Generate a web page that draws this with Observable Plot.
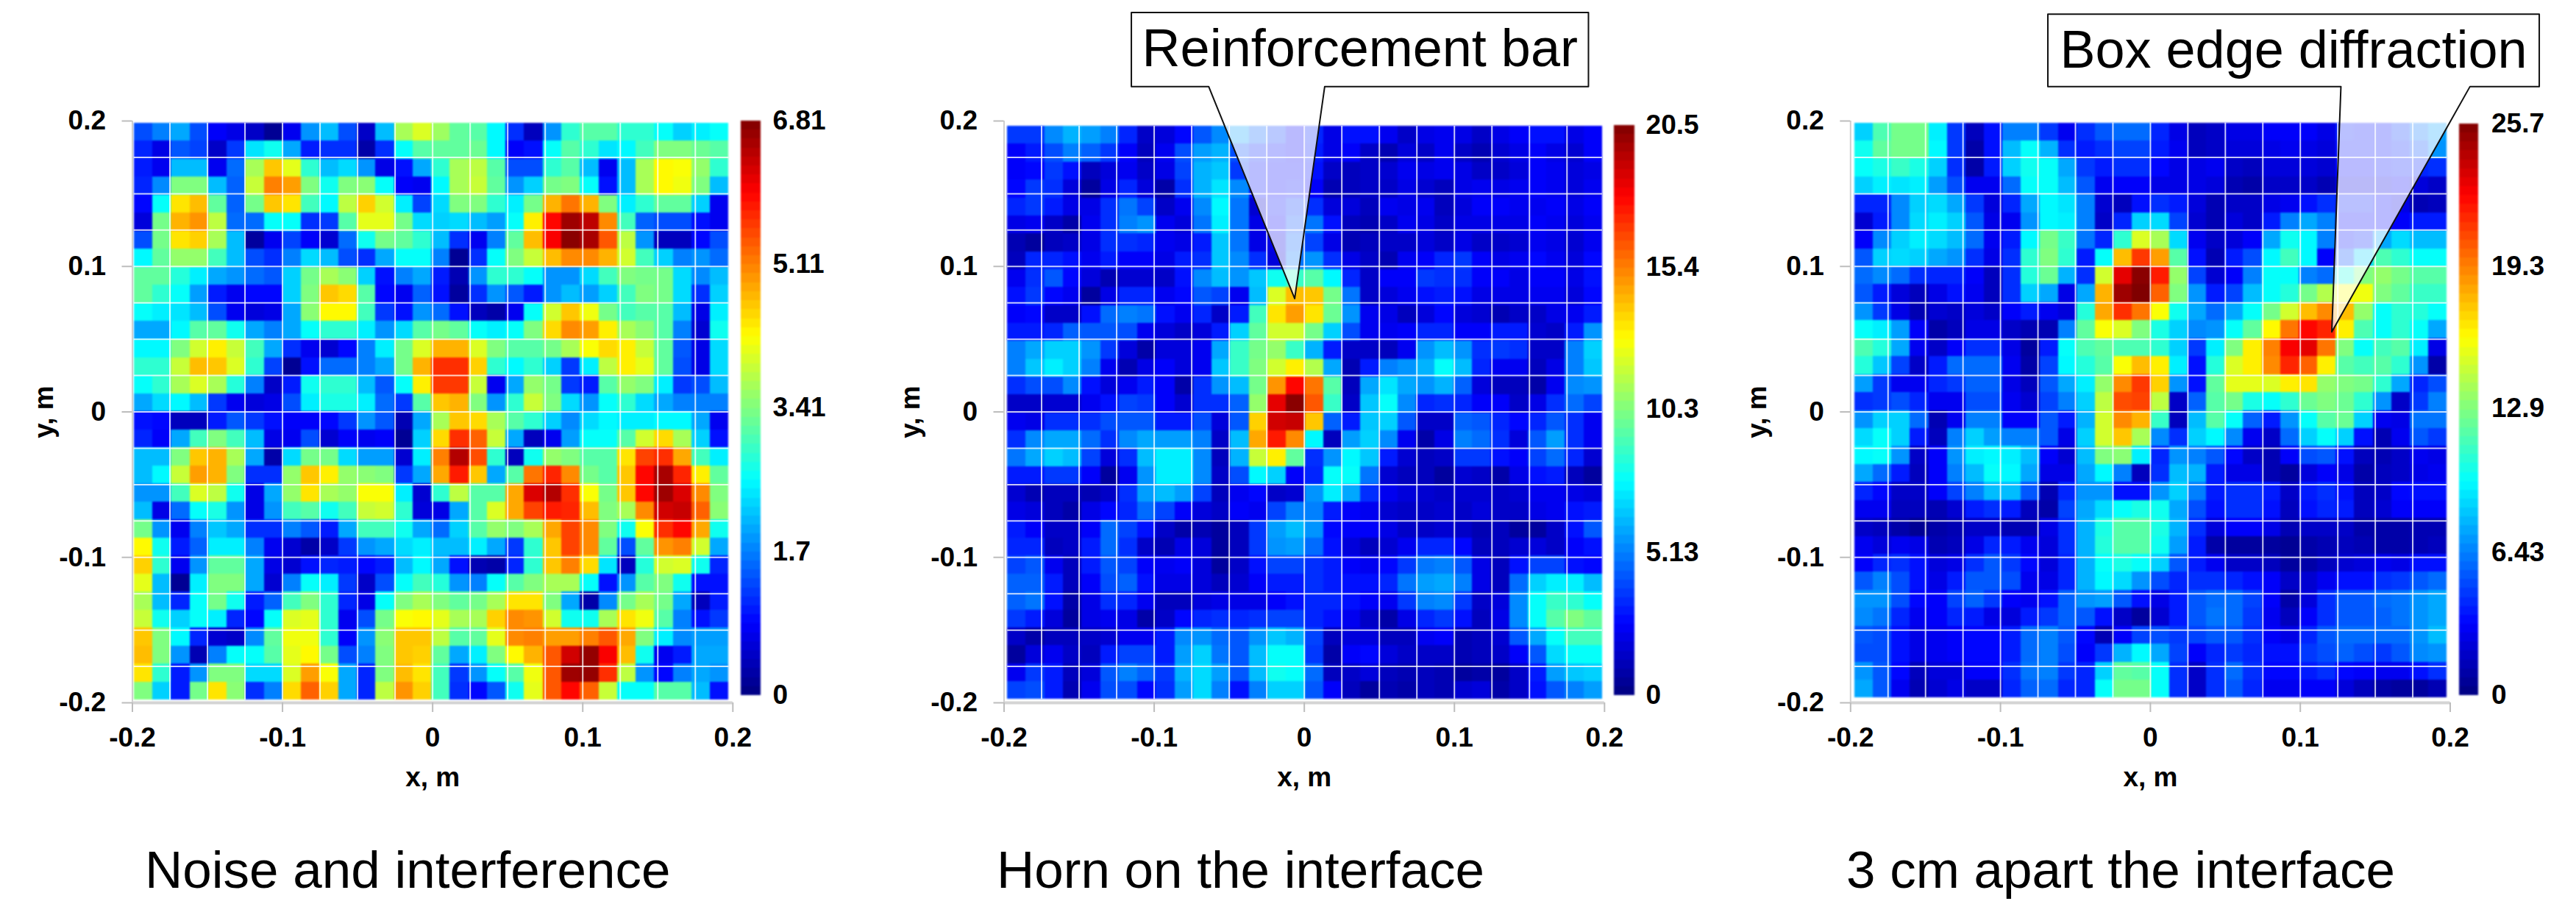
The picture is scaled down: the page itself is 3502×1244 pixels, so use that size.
<!DOCTYPE html>
<html><head><meta charset="utf-8">
<script src="https://cdn.jsdelivr.net/npm/d3@7"></script>
<script src="https://cdn.jsdelivr.net/npm/@observablehq/plot@0.6"></script>
<style>
html,body{margin:0;padding:0;background:#fff;}
#page{position:relative;width:3502px;height:1244px;overflow:hidden;background:#fff;}
.panel{position:absolute;top:0;}
.panel svg{display:block;max-width:none;background:transparent;}
.panel svg > g[aria-label="rect"]{filter:blur(1.2px);}
.cap{position:absolute;top:1147px;font:71px/71px "Liberation Sans",Arial,sans-serif;color:#000;white-space:nowrap;}
</style></head><body><div id="page"></div>
<script>
// Cell levels, in percent of each panel's colour scale; first row is y = +0.2.
const noiseRows = [
[20,25,29,20,12,10,7,2,11,27,31,20,7,31,54,59,53,47,46,37,17,6,27,42,46,46,42,42,38,33,36,38],
[16,10,21,19,7,18,35,39,29,15,17,17,4,17,38,46,47,47,48,37,12,14,38,46,42,35,37,44,50,50,48,46],
[15,11,31,31,11,23,54,68,60,42,31,34,27,10,14,29,42,54,56,46,20,20,42,46,31,11,31,54,63,62,52,42],
[16,26,50,50,31,22,57,75,72,50,39,50,51,38,12,11,37,54,57,47,27,33,49,50,38,14,31,54,63,61,50,31],
[13,38,65,69,47,22,49,68,65,44,37,56,67,58,36,19,34,50,50,42,36,49,70,76,70,50,36,42,47,47,33,11],
[9,49,70,73,56,23,23,38,38,17,18,46,60,60,49,34,33,34,31,28,38,64,87,97,94,74,44,22,20,20,14,11],
[20,49,65,67,54,31,3,11,19,12,8,23,39,49,47,42,31,17,11,25,47,69,88,99,96,79,56,27,6,6,13,20],
[37,47,52,52,44,31,20,17,25,34,31,20,17,29,38,38,25,2,17,38,50,57,69,74,74,70,58,44,33,25,27,23],
[47,47,41,36,29,27,23,21,33,49,54,51,33,14,25,29,15,5,27,42,42,38,27,27,34,44,50,49,49,34,26,31],
[47,42,38,28,15,11,13,13,33,50,68,66,46,13,11,22,14,3,17,27,21,15,27,31,28,33,44,50,49,34,17,33],
[38,36,35,31,20,11,9,10,29,51,63,63,44,18,14,27,23,14,6,4,11,38,58,68,61,49,44,46,46,31,10,36],
[29,29,37,46,47,39,29,25,29,38,42,42,36,27,34,46,49,47,38,36,38,50,66,74,72,64,54,51,46,25,8,39],
[37,37,50,58,64,57,44,29,17,11,8,13,25,36,49,59,70,70,59,50,46,46,49,54,62,66,64,57,47,21,10,34],
[42,42,57,69,68,59,42,19,2,14,23,23,25,29,49,70,83,83,67,42,37,42,33,18,36,56,64,60,47,20,10,34],
[38,42,54,59,54,41,25,7,15,39,42,42,31,21,38,64,82,82,57,11,29,52,49,18,15,46,52,50,36,18,20,31],
[29,34,37,31,18,11,9,10,20,36,40,40,36,23,18,46,68,70,50,27,42,57,50,34,27,38,42,34,29,25,25,25],
[14,13,6,6,15,21,18,14,12,12,13,18,27,21,5,29,54,68,66,54,46,42,33,26,34,37,36,36,37,37,29,11],
[16,12,29,44,50,44,31,10,11,20,8,12,11,12,2,33,66,83,78,57,29,6,11,28,38,38,46,58,66,54,33,14],
[31,31,50,68,70,54,29,4,34,49,49,34,28,28,8,36,75,95,80,42,6,39,52,50,46,46,65,81,83,71,44,36],
[31,37,57,72,70,50,17,17,52,68,64,52,51,50,18,29,71,85,68,29,46,76,84,74,49,46,68,87,96,84,64,47],
[27,27,44,59,56,39,10,29,52,65,54,52,62,62,36,8,42,56,46,46,71,91,95,83,62,49,68,87,97,91,74,50],
[31,10,23,38,40,27,10,27,44,46,39,44,57,58,42,9,10,29,46,59,71,81,85,84,69,50,54,74,92,93,78,51],
[49,27,11,25,32,29,17,17,25,21,15,29,44,44,39,29,23,33,46,52,50,54,71,81,74,50,39,62,83,87,71,39],
[63,39,15,22,36,36,25,11,8,4,7,18,27,29,34,36,31,31,36,29,18,42,68,81,74,47,20,47,73,75,58,29],
[67,42,11,27,47,47,29,10,8,14,16,15,13,15,31,37,29,14,5,4,16,42,68,75,66,35,6,41,58,59,39,16],
[60,31,2,36,50,50,29,8,25,38,36,18,7,20,38,44,41,27,25,38,46,50,54,54,38,14,27,46,50,39,14,14],
[54,31,16,38,49,39,15,22,44,50,42,16,10,38,50,54,50,47,49,54,65,65,50,29,4,26,49,54,49,29,6,15],
[57,39,33,38,36,16,13,38,59,60,42,11,20,49,62,63,60,54,54,67,74,73,58,39,39,54,65,61,46,25,14,18],
[68,50,37,16,8,7,26,47,61,61,42,12,27,51,68,68,56,46,47,60,74,75,72,72,75,79,71,50,36,26,28,28],
[69,50,27,5,25,38,38,46,60,63,49,20,25,50,68,67,47,29,36,50,63,70,79,92,98,88,69,39,11,15,29,29],
[65,42,15,27,50,50,34,34,59,72,62,29,16,50,69,65,44,18,27,38,46,61,79,97,98,83,56,27,13,25,29,27],
[50,33,15,49,65,51,17,25,66,78,67,29,16,56,73,67,44,17,13,21,39,60,79,87,78,57,38,38,46,46,31,14]
];
const hornRows = [
[18,18,26,30,28,25,16,7,9,13,21,26,28,22,18,12,16,10,14,14,11,7,10,11,10,7,10,12,14,14,10,12],
[12,15,20,25,22,18,12,6,11,20,28,30,20,16,14,12,15,10,12,7,5,9,7,11,7,5,8,10,12,10,8,12],
[12,13,18,14,6,9,11,7,10,19,30,32,18,14,13,13,14,7,6,7,8,11,10,11,10,7,7,9,12,11,9,10],
[13,18,17,9,3,10,16,9,4,17,30,35,26,14,13,14,12,5,6,7,7,10,8,6,10,11,10,11,12,11,9,11],
[16,18,15,10,10,17,24,19,7,11,26,37,24,8,14,18,17,9,9,6,11,10,11,6,9,12,12,11,11,12,10,12],
[10,11,7,4,11,17,25,27,11,9,24,36,24,10,12,20,24,14,6,5,7,11,10,7,10,10,10,10,12,11,9,11],
[5,3,6,7,10,17,17,16,11,10,15,32,24,10,10,22,19,10,5,6,7,7,9,7,10,7,7,8,11,10,8,11],
[6,16,16,14,11,15,12,12,10,15,17,32,26,17,9,24,27,17,10,7,5,11,12,16,18,12,10,11,13,11,9,13],
[11,17,21,13,9,5,8,8,7,14,26,31,27,32,39,43,46,37,16,7,12,12,18,17,17,12,12,10,12,12,10,14],
[14,18,13,11,3,10,16,16,11,13,21,19,11,31,59,69,68,49,24,7,9,11,14,15,14,10,10,10,11,11,9,13],
[12,13,7,7,14,23,25,24,14,11,16,7,15,44,65,72,65,48,27,11,10,6,9,13,9,8,5,7,7,10,11,15],
[15,15,16,22,21,21,20,11,9,7,9,15,33,47,58,58,49,33,20,11,11,12,16,16,12,12,15,15,8,7,15,27],
[25,29,33,33,27,18,9,4,9,9,11,29,43,49,52,43,30,15,7,7,6,11,27,31,27,17,18,17,7,7,25,33],
[25,32,36,33,25,11,5,10,12,9,11,32,43,50,58,64,55,29,5,15,25,27,30,38,31,16,11,11,6,10,25,32],
[17,20,20,26,14,9,11,15,12,4,17,27,31,49,73,87,76,46,6,29,35,29,27,30,22,9,6,6,4,11,26,27],
[7,7,8,8,11,14,19,18,12,8,17,17,22,52,90,99,79,43,7,32,38,26,16,17,16,12,12,7,10,17,23,19],
[11,10,17,17,17,20,21,21,15,15,20,9,21,67,92,93,68,22,15,32,33,21,7,7,22,21,16,13,16,21,17,11],
[17,26,29,29,23,17,26,29,28,28,25,7,31,71,85,74,37,6,28,33,26,11,4,10,25,23,17,9,21,28,17,11],
[24,29,33,31,19,9,17,31,36,36,26,6,30,57,64,47,17,27,37,32,15,8,6,7,18,18,14,12,19,23,16,8],
[15,15,18,18,12,3,11,27,36,36,26,7,20,37,33,12,16,38,38,24,8,6,6,3,8,7,4,10,14,15,6,3],
[8,5,6,6,5,7,17,28,31,28,19,6,11,13,7,8,27,36,29,17,11,9,8,7,8,8,7,8,11,11,10,9],
[10,9,6,4,10,13,16,23,19,12,9,7,12,11,19,25,25,15,12,11,8,7,7,8,7,9,7,7,10,11,14,15],
[15,12,7,7,12,23,19,14,7,4,5,3,6,18,28,31,27,13,12,12,10,7,7,8,7,5,6,3,3,7,14,21],
[16,16,6,7,15,23,17,7,5,10,9,3,6,18,27,28,23,14,9,6,8,11,16,16,13,6,6,8,9,7,12,14],
[19,21,11,6,15,21,19,12,11,12,9,3,7,14,19,19,17,15,12,11,13,18,24,25,21,10,6,14,19,19,14,13],
[22,22,15,6,12,20,22,14,10,10,9,6,8,12,15,15,17,15,14,14,16,24,28,29,25,10,6,23,33,36,36,31],
[22,24,14,4,10,17,16,11,6,6,9,10,10,10,12,14,16,16,14,12,11,18,25,26,18,7,9,26,38,43,42,38],
[18,15,9,3,10,11,10,4,7,13,16,17,16,17,19,19,16,14,11,7,4,10,16,18,14,6,10,26,38,46,50,47],
[7,4,6,6,7,8,11,11,15,26,27,23,21,27,32,30,19,6,9,9,6,6,11,12,5,6,8,21,29,38,44,44],
[3,9,11,7,6,15,19,19,15,28,33,24,21,31,38,38,18,4,12,13,9,7,7,7,5,6,7,12,21,34,38,38],
[11,18,15,6,9,21,25,22,18,30,34,28,21,31,39,38,23,6,7,9,6,5,6,5,3,4,3,7,15,28,32,33],
[19,20,15,5,11,20,20,13,17,28,34,25,14,25,33,33,21,12,6,3,5,4,6,5,8,9,4,7,14,21,25,28]
];
const apartRows = [
[33,45,49,49,36,18,6,14,25,25,18,11,17,21,23,23,16,10,6,7,10,10,12,12,12,10,15,14,14,18,24,28],
[39,47,49,49,37,18,4,14,31,38,30,17,15,17,19,19,15,11,6,7,9,9,10,11,10,9,14,14,14,16,20,27],
[38,40,43,40,33,17,4,15,33,39,38,29,18,15,17,17,13,10,10,11,7,6,9,9,9,8,13,13,14,15,16,17],
[33,36,35,36,28,20,11,11,23,38,38,31,21,11,12,12,10,10,10,9,5,4,7,7,7,5,10,10,10,12,9,7],
[16,16,26,33,34,29,18,9,16,29,37,35,25,8,6,14,17,15,9,5,7,7,10,11,14,17,15,15,13,10,5,6],
[8,15,26,34,36,33,21,10,11,27,37,36,25,7,16,33,34,19,8,5,9,7,15,25,29,25,13,13,13,12,15,15],
[12,26,33,36,34,31,23,11,15,37,49,43,24,16,42,59,54,34,11,7,9,12,29,39,37,25,14,16,29,34,31,31],
[21,33,34,33,29,27,17,10,17,42,50,42,15,38,69,82,72,46,14,5,15,20,37,44,37,12,20,33,45,42,38,38],
[23,26,23,17,16,16,12,6,17,41,48,30,17,58,90,99,85,52,19,8,12,25,38,38,25,23,40,50,52,49,46,46],
[21,15,9,6,10,14,11,6,17,33,29,10,29,70,97,100,78,50,27,15,19,31,38,41,49,55,62,61,50,47,43,43],
[27,18,10,5,8,7,9,7,12,15,11,9,41,71,83,76,62,39,29,23,29,38,49,58,69,74,69,52,38,42,41,38],
[38,36,28,12,4,6,10,10,7,5,5,25,47,62,59,50,40,33,26,27,38,47,63,76,87,84,64,45,38,42,38,29],
[45,41,29,11,7,12,17,17,10,3,15,38,45,47,45,45,42,33,18,36,50,64,75,88,90,76,50,38,44,46,36,10],
[41,32,19,7,15,23,23,23,11,4,19,37,41,46,62,69,64,36,14,41,59,64,74,84,78,64,46,44,46,42,27,4],
[28,18,11,11,16,18,22,22,10,6,21,29,36,52,74,82,67,27,14,47,60,60,59,64,65,52,50,49,42,29,16,20],
[17,18,20,16,11,11,20,20,11,8,19,25,33,56,80,81,56,7,22,46,49,40,38,42,48,50,48,42,27,7,18,25],
[27,33,33,23,5,11,25,25,12,12,21,15,30,58,74,70,43,6,31,46,38,22,15,27,38,46,48,33,11,10,24,24],
[34,38,33,15,6,25,33,28,25,25,21,10,33,58,68,54,26,17,33,37,26,11,7,23,33,38,33,14,5,11,21,18],
[37,38,27,7,12,27,36,37,36,31,12,8,31,50,51,36,16,27,25,21,13,7,5,12,20,21,14,6,5,7,11,10],
[29,23,15,6,12,25,31,38,37,29,10,10,29,37,25,6,17,31,30,15,10,10,5,3,9,12,10,4,6,7,10,11],
[16,13,7,7,12,19,25,31,31,21,5,16,27,27,14,14,27,33,25,15,17,17,15,7,15,17,14,6,7,13,14,14],
[11,11,6,6,5,8,15,17,15,6,4,19,29,34,38,40,39,29,20,14,17,17,14,6,14,16,15,6,8,12,12,12],
[7,6,4,2,4,5,7,7,5,5,10,17,30,40,46,46,40,30,17,9,12,12,10,5,7,7,7,4,4,4,5,5],
[11,9,11,10,5,6,10,16,15,11,9,17,30,41,46,46,39,28,15,4,3,3,3,2,4,5,6,5,4,4,5,6],
[12,16,17,14,9,10,17,21,18,13,9,16,30,38,40,38,33,21,15,11,7,7,6,3,4,6,8,9,11,10,14,14],
[21,25,20,14,10,15,21,21,20,11,10,16,30,37,34,27,20,16,17,17,16,14,12,7,8,11,14,14,17,18,21,23],
[27,27,20,13,12,19,22,18,12,11,14,22,27,28,21,14,10,15,21,23,23,19,12,4,9,17,21,21,23,24,27,29],
[26,24,16,11,12,16,15,10,9,15,18,22,21,14,7,3,8,15,21,24,23,18,11,6,12,17,21,21,22,24,27,29],
[21,20,14,10,11,12,13,13,15,23,25,21,13,5,12,19,20,18,19,21,21,17,12,10,16,21,23,23,23,23,27,31],
[20,20,14,10,11,12,13,13,15,23,25,20,12,18,30,37,29,19,12,16,18,16,14,14,18,20,22,20,18,21,26,27],
[27,21,13,6,9,9,12,12,17,24,25,18,16,33,47,46,38,17,7,17,23,17,13,13,15,17,13,12,11,11,14,17],
[29,21,11,5,8,10,7,7,16,22,23,16,16,38,49,49,38,17,7,17,21,16,11,11,12,12,9,6,4,3,3,5]
];
const axisTicks = [-0.2,-0.1,0,0.1,0.2];
const gridLines = [-0.175,-0.15,-0.125,-0.1,-0.075,-0.05,-0.025,0,0.025,0.05,0.075,0.1,0.125,0.15,0.175];
const noiseBar = [6.81,5.11,3.41,1.7,0];
const hornBar = [20.5,15.4,10.3,5.13,0];
const apartBar = [25.7,19.3,12.9,6.43,0];
const captions = ["Noise and interference","Horn on the interface","3 cm apart the interface"];
const callouts = ["Reinforcement bar","Box edge diffraction"];

const FONT = '"Liberation Sans",Arial,sans-serif';
const clamp01 = v => Math.max(0, Math.min(1, v));
const jet = t => {
  const c = o => Math.round(255 * clamp01(1.5 - Math.abs(4 * t - o)));
  return `rgb(${c(3)},${c(2)},${c(1)})`;
};

function panel(cfg) {
  const max = cfg.bar[0];
  const n = cfg.rows.length;
  const [ix0, ix1] = cfg.imgX, [iy0, iy1] = cfg.imgY;
  const dx = (ix1 - ix0) / n, dy = (iy0 - iy1) / n;
  const cells = cfg.rows.flatMap((row, r) => row.map((p, c) => ({
    x1: ix0 + c * dx, x2: ix0 + (c + 1) * dx,
    y1: iy0 - r * dy, y2: iy0 - (r + 1) * dy,
    value: p / 100 * max
  })));
  const barLo = -0.195, barHi = cfg.barTop;
  const barY = v => barLo + v / max * (barHi - barLo);
  const steps = d3.range(64);
  const ramp = steps.map(i => ({y1: barY(i / 64 * max), y2: barY((i + 1) / 64 * max), value: (i + 0.5) / 64 * max}));
  const marks = [
    Plot.rect(cells, {x1: "x1", x2: "x2", y1: "y1", y2: "y2", fill: "value", shapeRendering: "crispEdges"}),
    Plot.ruleX(gridLines, {y1: iy1, y2: iy0, stroke: "#fff", strokeOpacity: 0.78, strokeWidth: 2}),
    Plot.ruleY(gridLines, {x1: ix0, x2: ix1, stroke: "#fff", strokeOpacity: 0.78, strokeWidth: 2}),
    Plot.ruleX([-0.2], {y1: -0.2, y2: 0.2, stroke: "#cfcfcf", strokeWidth: 2}),
    Plot.ruleY([-0.2], {x1: -0.2, x2: 0.2, stroke: "#d4d4d4", strokeWidth: 4}),
    Plot.axisX({ticks: axisTicks, tickFormat: d => String(d), tickSize: 13, tickPadding: 20, stroke: "#bdbdbd", strokeWidth: 2, fontSize: 37, label: null, fill: "#000", color: "#000"}),
    Plot.axisY({ticks: axisTicks, tickFormat: d => String(d), tickSize: 14, tickPadding: 22, stroke: "#bdbdbd", strokeWidth: 2, fontSize: 37, label: null, fill: "#000", color: "#000"}),
    Plot.rect(ramp, {x1: cfg.barX[0], x2: cfg.barX[1], y1: "y1", y2: "y2", fill: "value", shapeRendering: "crispEdges"}),
    Plot.text(cfg.bar, {x: cfg.barLabelX, y: d => barY(d) , text: d => String(d), textAnchor: "start", fontSize: 37, fill: "#000"}),
    Plot.text(["x, m"], {x: 0, y: -0.2515, fontSize: 37, fill: "#000"}),
    Plot.text(["y, m"], {x: cfg.yLabelX, y: 0, rotate: -90, fontSize: 37, fill: "#000"})
  ];
  if (cfg.callout) {
    const k = cfg.callout;
    const yb = 0.2237;
    const poly = [
      {x: k.box[0], y: yb}, {x: k.box[0], y: k.top}, {x: k.box[1], y: k.top}, {x: k.box[1], y: yb},
      {x: k.base[1], y: yb}, {x: k.tip[0], y: k.tip[1]}, {x: k.base[0], y: yb}, {x: k.box[0], y: yb}
    ];
    marks.push(
      Plot.line(poly, {x: "x", y: "y", fill: "#fff", fillOpacity: 0.73, stroke: "#111", strokeWidth: 2, curve: "linear"}),
      Plot.text([k.text], {x: (k.box[0] + k.box[1]) / 2, y: (k.top + yb) / 2, fontSize: 72, fontWeight: "normal", fill: "#000"})
    );
  }
  const node = Plot.plot({
    width: cfg.width, height: 1100,
    marginLeft: cfg.axisL - cfg.left, marginRight: cfg.left + cfg.width - cfg.axisR,
    marginTop: 164, marginBottom: 1100 - 955,
    x: {domain: [-0.2, 0.2]}, y: {domain: [-0.2, 0.2]},
    color: {type: "linear", domain: [0, max], interpolate: jet},
    style: {fontFamily: FONT, fontWeight: "bold", background: "transparent", overflow: "visible"},
    marks
  });
  const div = document.createElement("div");
  div.className = "panel";
  div.style.left = cfg.left + "px";
  div.appendChild(node);
  document.getElementById("page").appendChild(div);
}

panel({rows: noiseRows, bar: noiseBar, left: 0, width: 1130, axisL: 179.5, axisR: 995.8,
  imgX: [-0.1989, 0.1974], imgY: [0.1986, -0.1982], barX: [0.2055, 0.2187], barTop: 0.2, barLabelX: 0.2266, yLabelX: -0.2585});
panel({rows: hornRows, bar: hornBar, left: 1130, width: 1160, axisL: 1364.5, axisR: 2180.8,
  imgX: [-0.1977, 0.1986], imgY: [0.1964, -0.1976], barX: [0.2063, 0.2201], barTop: 0.197, barLabelX: 0.2276, yLabelX: -0.262,
  callout: {text: callouts[0], box: [-0.1152, 0.1893], top: 0.2746, base: [-0.0637, 0.0136], tip: [-0.0064, 0.0779]}});
panel({rows: apartRows, bar: apartBar, left: 2290, width: 1212, axisL: 2515.3, axisR: 3330.5,
  imgX: [-0.1972, 0.1979], imgY: [0.1987, -0.1967], barX: [0.2059, 0.2191], barTop: 0.198, barLabelX: 0.2275, yLabelX: -0.2622,
  callout: {text: callouts[1], box: [-0.0684, 0.2594], top: 0.2734, base: [0.1271, 0.2132], tip: [0.121, 0.055]}});

[197, 1355, 2510].forEach((left, i) => {
  const d = document.createElement("div");
  d.className = "cap";
  d.style.left = left + "px";
  d.textContent = captions[i];
  document.getElementById("page").appendChild(d);
});
</script></body></html>
